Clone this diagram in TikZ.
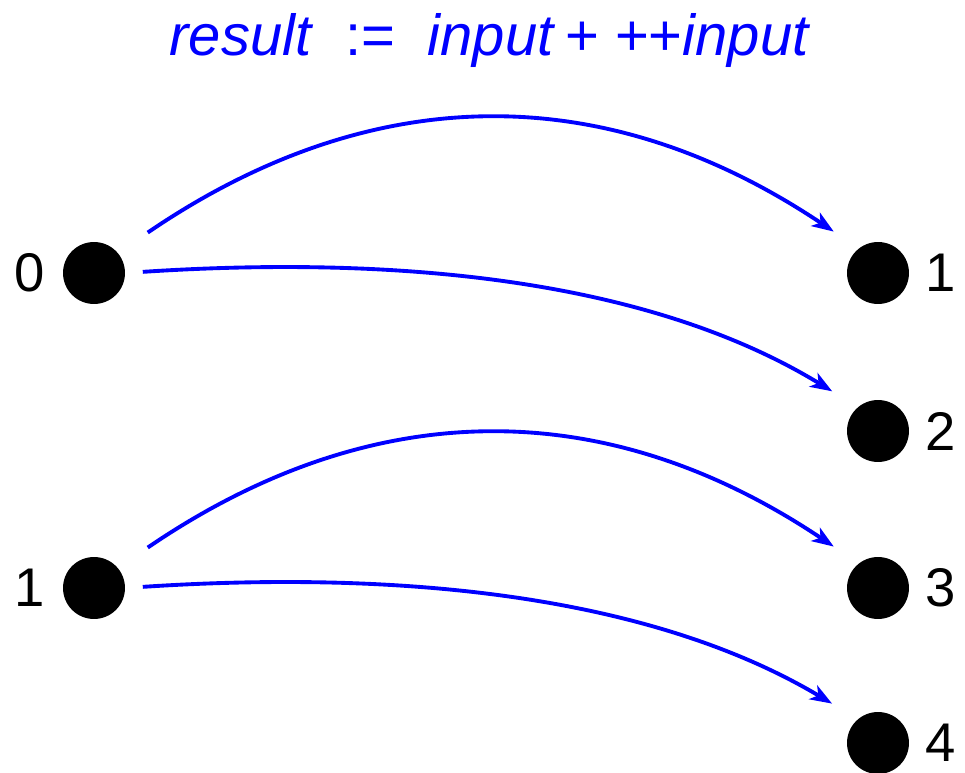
\documentclass[tikz,border=0pt]{standalone}
\usepackage{fontspec}
\setmainfont{Liberation Sans}
\usetikzlibrary{positioning,arrows.meta}
\tikzset{
  dot/.style ={circle,fill=black,inner sep=0pt,minimum size=1.24cm},
  num/.style ={font=\fontsize{31}{33}\selectfont,inner sep=0pt},
  ttl/.style ={font=\fontsize{33}{36}\selectfont,text=blue,inner sep=0pt},
  flow/.style={-{Stealth[length=0.44cm,width=0.32cm,inset=0.12cm]},blue,line width=2.2pt},
}

\begin{document}
\begin{tikzpicture}[x=0.02cm,y=-0.02cm]
\useasboundingbox (0,0) rectangle (965,773);

% ===================== TITEL ========================================
\node[ttl] (title) at (490,41) {\textit{result}\ \ :=\ \ \textit{input}\,+\;++\textit{input}};

% ===================== PUNKTE =======================================
\node[dot] (in0) at (94,273) {};
\node[dot] (in1) at (94,588) {};
\node[dot] (out1) at (878,273) {};
\node[dot] (out2) at (878,431) {};
\node[dot] (out3) at (878,588) {};
\node[dot] (out4) at (878,743) {};

\node[num,left=0.36cm of in0]  (l0) {0};
\node[num,left=0.36cm of in1]  (l1) {1};
\node[num,right=0.32cm of out1] (r1) {1};
\node[num,right=0.32cm of out2] (r2) {2};
\node[num,right=0.32cm of out3] (r3) {3};
\node[num,right=0.32cm of out4] (r4) {4};

% ===================== PFEILE =======================================
\draw[flow,shorten <=0.72cm,shorten >=0.6cm]
  (in0.40) .. controls (370,81) and (603,77) .. (out1.128);
\draw[flow,shorten <=0.35cm,shorten >=0.6cm]
  (in0.east) .. controls (400,255) and (650,280) .. (out2.130);
\draw[flow,shorten <=0.72cm,shorten >=0.6cm]
  (in1.40) .. controls (370,396) and (603,392) .. (out3.128);
\draw[flow,shorten <=0.35cm,shorten >=0.6cm]
  (in1.east) .. controls (400,570) and (650,595) .. (out4.130);

\end{tikzpicture}
\end{document}
